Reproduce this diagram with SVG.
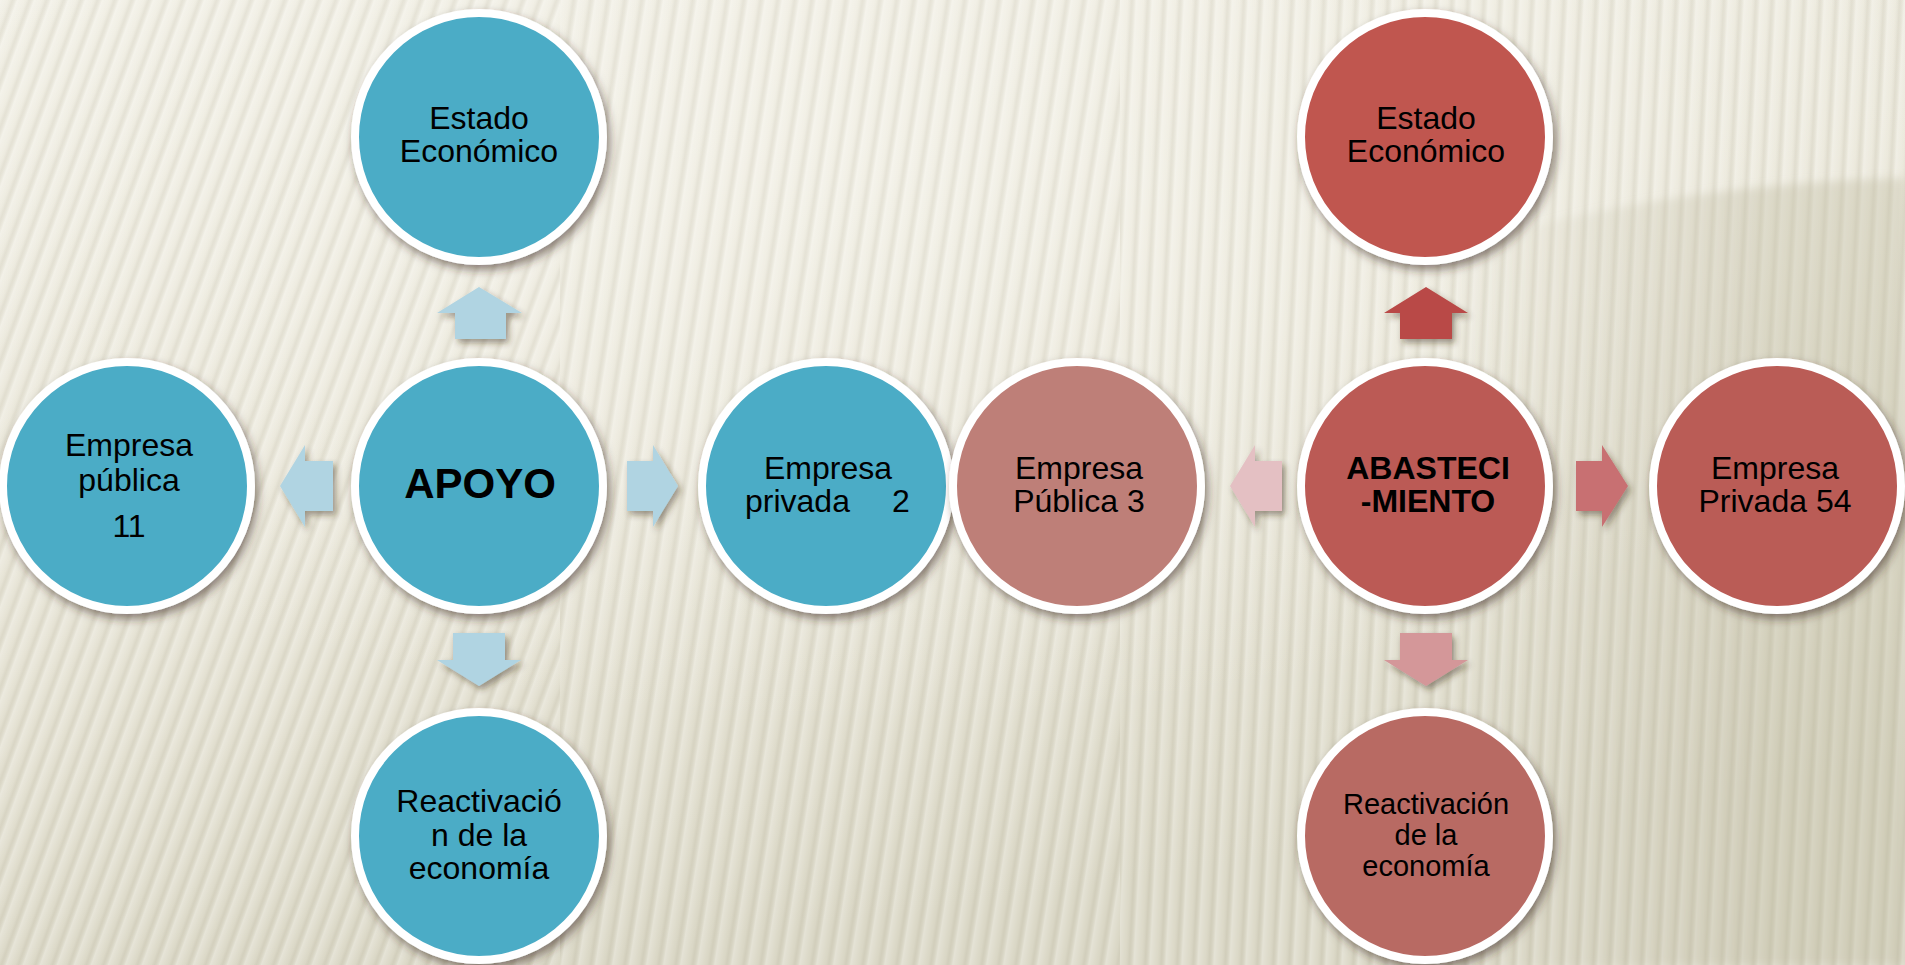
<svg xmlns="http://www.w3.org/2000/svg" width="1905" height="965" viewBox="0 0 1905 965">
<defs>
  <linearGradient id="bg" x1="0" y1="0" x2="0.3" y2="1">
    <stop offset="0" stop-color="#F0EEE3"/>
    <stop offset="0.5" stop-color="#E9E6D8"/>
    <stop offset="1" stop-color="#DAD7C5"/>
  </linearGradient>
  <radialGradient id="glow" cx="0.45" cy="0.15" r="0.6">
    <stop offset="0" stop-color="#F3F1E7" stop-opacity="0.8"/>
    <stop offset="1" stop-color="#F3F1E7" stop-opacity="0"/>
  </radialGradient>
  <linearGradient id="shade" x1="1450" y1="0" x2="1750" y2="0" gradientUnits="userSpaceOnUse">
    <stop offset="0" stop-color="#BDB89F" stop-opacity="0"/>
    <stop offset="1" stop-color="#BDB89F" stop-opacity="0.35"/>
  </linearGradient>
  <linearGradient id="stripeG" x1="0" y1="0" x2="1" y2="0">
    <stop offset="0" stop-color="#FFFFFF" stop-opacity="0.3"/>
    <stop offset="0.45" stop-color="#FFFFFF" stop-opacity="0.06"/>
    <stop offset="0.72" stop-color="#8A836A" stop-opacity="0.11"/>
    <stop offset="1" stop-color="#FFFFFF" stop-opacity="0.2"/>
  </linearGradient>
  <pattern id="st1" width="17" height="965" patternUnits="userSpaceOnUse" patternTransform="skewX(-20)">
    <rect width="17" height="965" fill="url(#stripeG)"/>
  </pattern>
  <pattern id="st2" width="17" height="965" patternUnits="userSpaceOnUse" patternTransform="skewX(-9)">
    <rect width="17" height="965" fill="url(#stripeG)"/>
  </pattern>
  <pattern id="st3" width="16" height="965" patternUnits="userSpaceOnUse" patternTransform="skewX(-3)">
    <rect width="16" height="965" fill="url(#stripeG)"/>
  </pattern>
  <filter id="shadow" x="-20%" y="-20%" width="140%" height="140%">
    <feDropShadow dx="3" dy="5" stdDeviation="5" flood-color="#3B2A1A" flood-opacity="0.55"/>
  </filter>
  <filter id="ashadow" x="-30%" y="-30%" width="160%" height="160%">
    <feDropShadow dx="3" dy="4" stdDeviation="3" flood-color="#3B2A1A" flood-opacity="0.45"/>
  </filter>
  <filter id="soft" x="-10%" y="-10%" width="120%" height="120%">
    <feGaussianBlur stdDeviation="4"/>
  </filter>
  <style>
    .c { stroke: #FFFFFF; stroke-width: 8; filter: url(#shadow); }
    .blue { fill: #4BACC6; }
    .t { font-family: "Liberation Sans", Arial, sans-serif; font-size: 32px; fill: #000000; text-anchor: middle; }
    .b { font-weight: bold; }
    .a { filter: url(#ashadow); }
  </style>
</defs>

<g id="background">
  <rect width="1905" height="965" fill="url(#bg)"/>
  <rect width="1905" height="965" fill="url(#glow)"/>
  <rect x="0" y="0" width="560" height="965" fill="url(#st1)"/>
  <rect x="560" y="0" width="560" height="965" fill="url(#st2)"/>
  <rect x="1120" y="0" width="785" height="965" fill="url(#st3)"/>
  <path d="M1450,250 Q1650,185 1905,178 L1905,965 L1450,965 Z" fill="url(#shade)" filter="url(#soft)"/>
</g>

<g id="connectors">
  <polygon class="a" fill="#B0D4E2" points="479,287 522,313 506,313 506,339 455,339 455,313 437,313"/>
  <polygon class="a" fill="#B0D4E2" points="453,633 505,633 505,660 521,660 479,686 437,660 453,660"/>
  <polygon class="a" fill="#B0D4E2" points="280,486 305,445 305,461 333,461 333,511 305,511 305,527"/>
  <polygon class="a" fill="#B0D4E2" points="627,461 653,461 653,445 678,486 653,527 653,511 627,511"/>
  <polygon class="a" fill="#E4C0C3" points="1230,486 1255,445 1255,461 1282,461 1282,511 1255,511 1255,527"/>
  <polygon class="a" fill="#C87072" points="1576,461 1602,461 1602,445 1628,486 1602,527 1602,511 1576,511"/>
  <polygon class="a" fill="#B94A47" points="1426,287 1468,313 1452,313 1452,339 1400,339 1400,313 1384,313"/>
  <polygon class="a" fill="#D49799" points="1400,633 1452,633 1452,660 1468,660 1426,686 1384,660 1400,660"/>
</g>

<g id="estado-azul">
  <circle class="c blue" cx="479" cy="137" r="124"/>
  <text class="t" x="479" y="129">Estado</text>
  <text class="t" x="479" y="162">Económico</text>
</g>
<g id="apoyo">
  <circle class="c blue" cx="479" cy="486" r="124"/>
  <text class="t b" x="480" y="498" style="font-size:42px">APOYO</text>
</g>
<g id="empresa-publica">
  <circle class="c blue" cx="127" cy="486" r="124"/>
  <text class="t" x="129" y="456">Empresa</text>
  <text class="t" x="129" y="491">pública</text>
  <text class="t" x="129" y="537">11</text>
</g>
<g id="empresa-privada">
  <circle class="c blue" cx="826" cy="486" r="124"/>
  <text class="t" x="828" y="479">Empresa</text>
  <text class="t" x="745" y="512" style="text-anchor:start">privada</text>
  <text class="t" x="892" y="512" style="text-anchor:start">2</text>
</g>
<g id="reactivacion-azul">
  <circle class="c blue" cx="479" cy="836" r="124"/>
  <text class="t" x="479" y="812">Reactivació</text>
  <text class="t" x="479" y="846">n de la</text>
  <text class="t" x="479" y="879">economía</text>
</g>

<g id="empresa-publica-3">
  <circle class="c" fill="#BE7F78" cx="1077" cy="486" r="124"/>
  <text class="t" x="1079" y="479">Empresa</text>
  <text class="t" x="1079" y="512">Pública 3</text>
</g>
<g id="abastecimiento">
  <circle class="c" fill="#BB5A55" cx="1425" cy="486" r="124"/>
  <text class="t b" x="1428" y="479">ABASTECI</text>
  <text class="t b" x="1428" y="512">-MIENTO</text>
</g>
<g id="estado-rojo">
  <circle class="c" fill="#C05650" cx="1425" cy="137" r="124"/>
  <text class="t" x="1426" y="129">Estado</text>
  <text class="t" x="1426" y="162">Económico</text>
</g>
<g id="empresa-privada-54">
  <circle class="c" fill="#BA5B56" cx="1777" cy="486" r="124"/>
  <text class="t" x="1775" y="479">Empresa</text>
  <text class="t" x="1775" y="512">Privada 54</text>
</g>
<g id="reactivacion-rojo">
  <circle class="c" fill="#B86A64" cx="1425" cy="836" r="124"/>
  <text class="t" x="1426" y="814" style="font-size:29px">Reactivación</text>
  <text class="t" x="1426" y="845" style="font-size:29px">de la</text>
  <text class="t" x="1426" y="876" style="font-size:29px">economía</text>
</g>
</svg>
